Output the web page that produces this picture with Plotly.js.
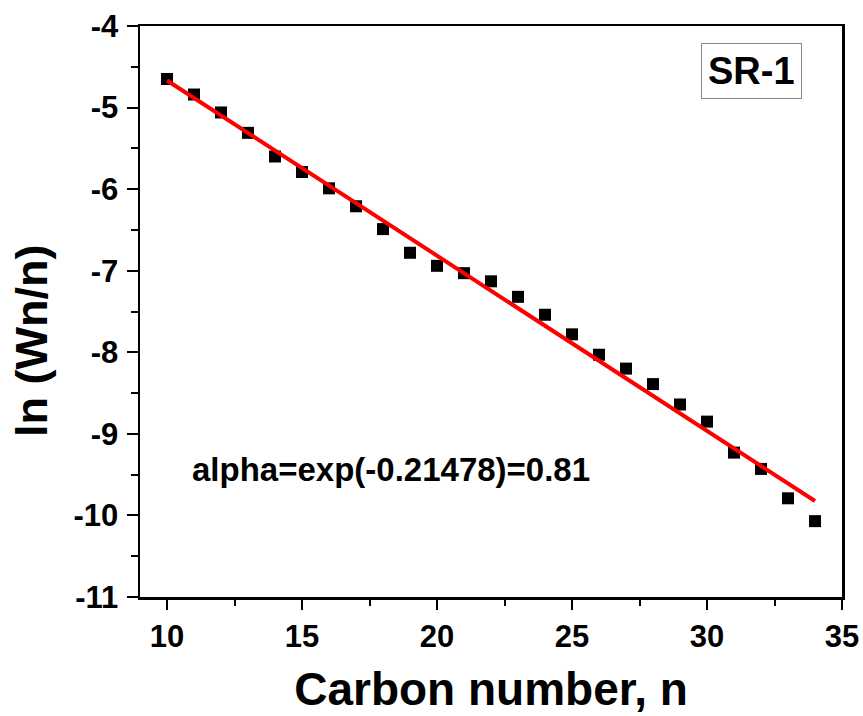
<!DOCTYPE html>
<html>
<head>
<meta charset="utf-8">
<script src="https://cdn.plot.ly/plotly-3.0.1.min.js"></script>
<style>html,body{margin:0;padding:0;background:#fff;}#chart{width:863px;height:716px;}</style>
</head>
<body>
<div id="chart"></div>
<script>
// Data
var carbonNumber = [10,11,12,13,14,15,16,17,18,19,20,21,22,23,24,25,26,27,28,29,30,31,32,33,34];
var lnWnOverN = [-4.65,-4.84,-5.06,-5.31,-5.60,-5.79,-5.99,-6.21,-6.49,-6.78,-6.94,-7.03,-7.13,-7.32,-7.54,-7.78,-8.03,-8.20,-8.39,-8.64,-8.85,-9.23,-9.43,-9.79,-10.07];
var fitSlope = -0.21478;
var fitIntercept = -2.52;
var fitX = [10, 34];
var fitY = fitX.map(function(x){ return fitIntercept + fitSlope * x; });

var xTickVals = [10, 15, 20, 25, 30, 35];
var xTickText = ['10', '15', '20', '25', '30', '35'];
var yTickVals = [-11, -10, -9, -8, -7, -6, -5, -4];
var yTickText = ['-11', '-10', '-9', '-8', '-7', '-6', '-5', '-4'];

var xTitle = 'Carbon number, n';
var yTitle = 'ln (Wn/n)';
var noteText = 'alpha=exp(-0.21478)=0.81';
var sampleLabel = 'SR-1';

var FONT = 'Arial, "Liberation Sans", sans-serif';

var traces = [
  {x: carbonNumber, y: lnWnOverN, type: 'scatter', mode: 'markers',
   marker: {symbol: 'square', size: 12, color: '#000000'}, showlegend: false},
  {x: fitX, y: fitY, type: 'scatter', mode: 'lines',
   line: {color: '#ff0000', width: 4}, showlegend: false}
];

var axisCommon = {
  showgrid: false, zeroline: false, showline: true, mirror: true,
  linecolor: '#000', linewidth: 2.5, ticks: 'outside', tickcolor: '#000', tickwidth: 2,
  tickfont: {family: FONT, size: 31, color: '#000', weight: 'bold'}
};

var layout = {
  width: 863, height: 716,
  margin: {l: 140, r: 21, t: 26, b: 119},
  paper_bgcolor: '#fff', plot_bgcolor: '#fff',
  font: {family: FONT, color: '#000'},
  xaxis: Object.assign({}, axisCommon, {
    range: [9, 35], tickmode: 'array', tickvals: xTickVals, ticktext: xTickText, ticklen: 10,
    minor: {dtick: 2.5, tick0: 10, ticks: 'outside', ticklen: 6, tickwidth: 2, tickcolor: '#000'},
    ticklabelstandoff: 0,
    title: {text: xTitle, font: {family: FONT, size: 46, color: '#000', weight: 'bold'}, standoff: 20}
  }),
  yaxis: Object.assign({}, axisCommon, {
    range: [-11, -4], tickmode: 'array', tickvals: yTickVals, ticktext: yTickText, ticklen: 11,
    minor: {dtick: 0.5, tick0: -11, ticks: 'outside', ticklen: 7, tickwidth: 2, tickcolor: '#000'},
    ticklabelstandoff: 2
  }),
  annotations: [
    {xref: 'paper', yref: 'paper', x: (31 - 140) / 702, y: (597 - 341) / 571,
     text: yTitle, textangle: -90, showarrow: false, xanchor: 'center', yanchor: 'middle',
     font: {family: FONT, size: 45, color: '#000', weight: 'bold'}},
    {xref: 'x', yref: 'y', x: 18.3, y: -9.44, text: noteText, showarrow: false,
     xanchor: 'center', yanchor: 'middle',
     font: {family: FONT, size: 33, color: '#000', weight: 'bold'}},
    {xref: 'x', yref: 'y', x: 31.64, y: -4.552, text: sampleLabel, showarrow: false,
     xanchor: 'center', yanchor: 'middle', bordercolor: '#888', borderwidth: 1, borderpad: 6,
     bgcolor: '#fff',
     font: {family: FONT, size: 38, color: '#000', weight: 'bold'}}
  ]
};

Plotly.newPlot('chart', traces, layout, {displayModeBar: false, staticPlot: true});
</script>
</body>
</html>
